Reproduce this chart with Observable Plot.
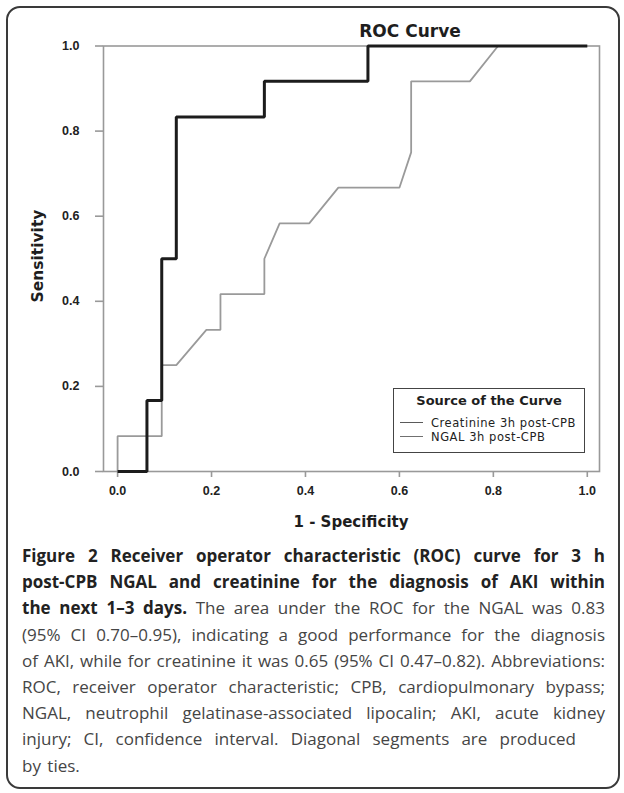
<!DOCTYPE html>
<html><head><meta charset="utf-8">
<script src="https://cdn.jsdelivr.net/npm/d3@7"></script>
<script src="https://cdn.jsdelivr.net/npm/@observablehq/plot@0.6"></script>
<style>
body{margin:0;background:#fff}
#fig{position:relative;width:624px;height:793px;overflow:hidden;background:#fff}
#border{position:absolute;left:6px;top:6px;width:614px;height:783px;border:2px solid #3a3a3a;border-radius:14px;box-sizing:border-box}
#chart{position:absolute;left:0;top:0}
#title{position:absolute;left:310px;width:200px;top:20px;text-align:center;font:bold 17px "DejaVu Sans";color:#1e1e1e;line-height:22px}
#ylabel{position:absolute;left:38px;top:256px;transform:translate(-50%,-50%) rotate(-90deg);font:bold 15.5px "DejaVu Sans";color:#1e1e1e;white-space:nowrap}
#xlabel{position:absolute;left:351px;top:522px;transform:translate(-50%,-50%);font:bold 15px "DejaVu Sans";color:#1e1e1e;white-space:nowrap}
#legend{position:absolute;left:393px;top:388px;width:192px;height:65px;border:1.5px solid #444;box-sizing:border-box;background:#fff}
#legend .lt{position:absolute;left:0;width:100%;top:4px;text-align:center;font:bold 13px "DejaVu Sans";color:#1e1e1e}
#legend .row{position:absolute;left:6px;font:11.5px "DejaVu Sans";letter-spacing:0.55px;color:#222;line-height:12px;white-space:nowrap}
#legend .sw{display:inline-block;width:23px;height:0;border-top:1.6px solid #666;vertical-align:middle;margin-right:8px;position:relative;top:-1px}
#caption{position:absolute;left:22px;top:543px;width:583px;font-family:"Open Sans";font-size:17px;line-height:26.2px;color:#454545}
#caption .ln{white-space:nowrap;height:26.2px}
#caption b{color:#222;font-weight:700}
</style></head><body>
<div id="fig">
<div id="border"></div>
<div id="chart"></div>
<div id="title">ROC Curve</div>
<div id="ylabel">Sensitivity</div>
<div id="xlabel">1 - Specificity</div>
<div id="legend"></div>
<div id="caption"></div>
</div>
<script>
// Tick values
const xTicks = [0, 0.2, 0.4, 0.6, 0.8, 1.0];
const yTicks = [0, 0.2, 0.4, 0.6, 0.8, 1.0];

// Black curve (higher AUC): 1 - specificity and sensitivity
const curveAFpr = [0, 0.0625, 0.0625, 0.094, 0.094, 0.125, 0.125, 0.3125, 0.3125, 0.533, 0.533, 1];
const curveATpr = [0, 0, 0.167, 0.167, 0.5, 0.5, 0.833, 0.833, 0.917, 0.917, 1, 1];

// Grey curve
const curveBFpr = [0, 0, 0.094, 0.094, 0.125, 0.189, 0.219, 0.219, 0.3125, 0.3125, 0.345, 0.408, 0.47, 0.6, 0.625, 0.625, 0.75, 0.81, 1];
const curveBTpr = [0, 0.083, 0.083, 0.25, 0.25, 0.333, 0.333, 0.417, 0.417, 0.5, 0.583, 0.583, 0.667, 0.667, 0.75, 0.917, 0.917, 1, 1];

const legendNames = ["Creatinine 3h post-CPB", "NGAL 3h post-CPB"];
const legendColors = ["#5a5a5a", "#707070"];

const curveA = curveAFpr.map((x, i) => ({fpr: x, tpr: curveATpr[i]}));
const curveB = curveBFpr.map((x, i) => ({fpr: x, tpr: curveBTpr[i]}));

const chart = Plot.plot({
  width: 624, height: 540,
  marginLeft: 103, marginRight: 25, marginTop: 45.5, marginBottom: 69,
  style: {fontFamily: "Liberation Sans", fontSize: "12.5px", fontWeight: "bold", color: "#222", background: "transparent", overflow: "visible"},
  x: {domain: [-0.03, 1.026]},
  y: {domain: [0, 1]},
  marks: [
    Plot.frame({stroke: "#999", strokeWidth: 1.6}),
    Plot.axisX({ticks: xTicks, tickSize: 6, tickPadding: 9, tickFormat: d3.format(".1f"), label: null, stroke: "#999", strokeWidth: 1.6, fill: "#222"}),
    Plot.axisY({ticks: yTicks, tickSize: 8, tickPadding: 16, tickFormat: d3.format(".1f"), label: null, stroke: "#999", strokeWidth: 1.6, fill: "#222"}),
    Plot.line(curveB, {x: "fpr", y: "tpr", stroke: "#9a9a9a", strokeWidth: 1.8, strokeLinejoin: "miter", strokeLinecap: "butt"}),
    Plot.line(curveA, {x: "fpr", y: "tpr", stroke: "#1c1c1c", strokeWidth: 3, strokeLinejoin: "miter", strokeLinecap: "butt"})
  ]
});
document.getElementById("chart").appendChild(chart);

// Legend
const lg = document.getElementById("legend");
const lt = document.createElement("div"); lt.className = "lt"; lt.textContent = "Source of the Curve"; lg.appendChild(lt);
legendNames.forEach((name, i) => {
  const r = document.createElement("div"); r.className = "row"; r.style.top = (28 + i * 13.5) + "px";
  const sw = document.createElement("span"); sw.className = "sw"; sw.style.borderTopColor = legendColors[i];
  r.appendChild(sw); r.appendChild(document.createTextNode(name)); lg.appendChild(r);
});

// Caption, line by line (justified to a target width; 0 = natural)
const captionLines = [
  ["<b>Figure 2 Receiver operator characteristic (ROC) curve for 3 h</b>", 583],
  ["<b>post-CPB NGAL and creatinine for the diagnosis of AKI within</b>", 583],
  ["<b>the next 1–3 days.</b> The area under the ROC for the NGAL was 0.83", 583],
  ["(95% CI 0.70–0.95), indicating a good performance for the diagnosis", 583],
  ["of AKI, while for creatinine it was 0.65 (95% CI 0.47–0.82). Abbreviations:", 583],
  ["ROC, receiver operator characteristic; CPB, cardiopulmonary bypass;", 583],
  ["NGAL, neutrophil gelatinase-associated lipocalin; AKI, acute kidney", 583],
  ["injury; CI, confidence interval. Diagonal segments are produced", 554],
  ["by ties.", 0]
];
const cap = document.getElementById("caption");
const W = 583;
captionLines.forEach(([html, target]) => {
  const d = document.createElement("div"); d.className = "ln";
  const s = document.createElement("span"); s.innerHTML = html; d.appendChild(s); cap.appendChild(d);
  let w = s.getBoundingClientRect().width;
  const txt = s.textContent;
  if (w > W - 8) { s.style.letterSpacing = (-(w - W + 10) / txt.length) + "px"; w = s.getBoundingClientRect().width; }
  const spaces = (txt.match(/ /g) || []).length;
  if (target && spaces > 0 && target > w) s.style.wordSpacing = ((target - w) / spaces) + "px";
  else if (!target) s.style.wordSpacing = "2px";
});
</script>
</body></html>
